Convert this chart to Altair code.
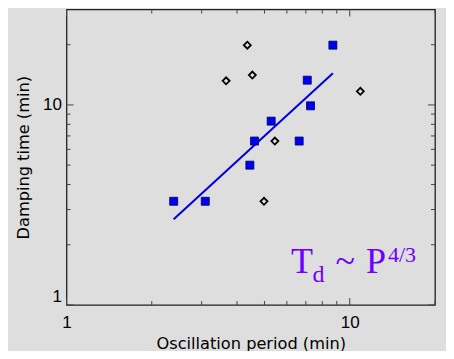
import altair as alt
import pandas as pd

# Data
diam_x = [4.35, 3.66, 4.53, 10.9, 5.44, 4.98]
diam_y = [19.9, 13.2, 14.1, 11.7, 6.6, 3.3]
blue_x = [8.72, 7.08, 7.27, 5.28, 4.61, 6.63, 4.44, 2.39, 3.09]
blue_y = [19.9, 13.3, 9.9, 8.3, 6.6, 6.6, 5.0, 3.3, 3.3]
fit_x = [2.39, 8.72]
fit_y = [2.68, 14.4]

major_ticks = [1, 10]
minor_x = [2, 3, 4, 5, 6, 7, 8, 9, 20]
minor_y = [2, 3, 4, 5, 6, 7, 8, 9, 20]

W, H = 368.5, 295.5
LABEL_FONT = "Liberation Sans"
TITLE_FONT = "DejaVu Sans"
PURPLE = "#6f00ff"

xscale = alt.Scale(type="log", domain=[1, 20], nice=False)
yscale = alt.Scale(type="log", domain=[1, 30], nice=False)

diam_df = pd.DataFrame({"x": diam_x, "y": diam_y})
blue_df = pd.DataFrame({"x": blue_x, "y": blue_y})
fit_df = pd.DataFrame({"x": fit_x, "y": fit_y})

xaxis = alt.Axis(values=major_ticks, title="Oscillation period (min)", grid=False, ticks=False,
                 domain=False, labelFlush=False, labelFont=LABEL_FONT, labelFontSize=17,
                 labelColor="black", labelPadding=9, titleFont=TITLE_FONT, titleFontSize=16.2,
                 titleFontWeight="normal", titleColor="black", titleBaseline="alphabetic",
                 titleY=43, format="d")
yaxis = alt.Axis(values=major_ticks, title="Damping time (min)", grid=False, ticks=False,
                 domain=False, labelFlush=True, labelFont=LABEL_FONT, labelFontSize=17,
                 labelColor="black", labelPadding=5, titleFont=TITLE_FONT, titleFontSize=16.2,
                 titleFontWeight="normal", titleColor="black", titleBaseline="alphabetic",
                 titleX=-38.5, format="d")

base_pts = alt.Chart(blue_df).mark_point(shape="square", filled=True, size=64, color="#0000ee",
                                          stroke="#00006a", strokeWidth=0.8, opacity=1).encode(
    x=alt.X("x:Q", scale=xscale, axis=xaxis),
    y=alt.Y("y:Q", scale=yscale, axis=yaxis),
)

diam = alt.Chart(diam_df).mark_point(shape="diamond", filled=False, size=49, color="black",
                                      strokeWidth=1.8, opacity=1).encode(
    x=alt.X("x:Q", scale=xscale),
    y=alt.Y("y:Q", scale=yscale),
)

fit = alt.Chart(fit_df).mark_line(color="#0000dd", strokeWidth=2).encode(
    x=alt.X("x:Q", scale=xscale),
    y=alt.Y("y:Q", scale=yscale),
)

TICK_COLOR = "#444444"
MAJ, MIN = 7, 4

def xticks(vals, y0, y1):
    return alt.Chart(pd.DataFrame({"v": vals})).mark_rule(color=TICK_COLOR, strokeWidth=1).encode(
        x=alt.X("v:Q", scale=xscale), y=alt.value(y0), y2=alt.value(y1))

def yticks(vals, x0, x1):
    return alt.Chart(pd.DataFrame({"v": vals})).mark_rule(color=TICK_COLOR, strokeWidth=1).encode(
        y=alt.Y("v:Q", scale=yscale), x=alt.value(x0), x2=alt.value(x1))

tick_layers = [
    xticks(minor_x, H, H - MIN), xticks(major_ticks, H, H - MAJ),
    xticks(minor_x, 0, MIN), xticks(major_ticks, 0, MAJ),
    yticks(minor_y, 0, MIN), yticks(major_ticks, 0, MAJ),
    yticks(minor_y, W, W - MIN), yticks(major_ticks, W, W - MAJ),
]

def txt(s, x, y, size):
    return alt.Chart(pd.DataFrame({"t": [s]})).mark_text(
        text=s, font="Liberation Serif", fontSize=size, color=PURPLE, align="left",
        baseline="alphabetic").encode(x=alt.value(x), y=alt.value(y))

annot = [
    txt("T", 224.5, 263.8, 36),
    txt("d", 246, 272, 24),
    txt("~", 269, 263.8, 36),
    txt("P", 299.5, 263.8, 36),
    txt("4/3", 321.5, 252.2, 22),
]

chart = alt.layer(*tick_layers, fit, diam, base_pts, *annot).properties(
    width=W, height=H, background="#dedede",
    autosize=alt.AutoSizeParams(type="none"),
    padding={"left": 58.5, "top": 1.5, "right": 11, "bottom": 46},
).configure_view(stroke="#222222", strokeWidth=1.3)

chart.save("out.html", embed_options={"renderer": "svg", "actions": False})
